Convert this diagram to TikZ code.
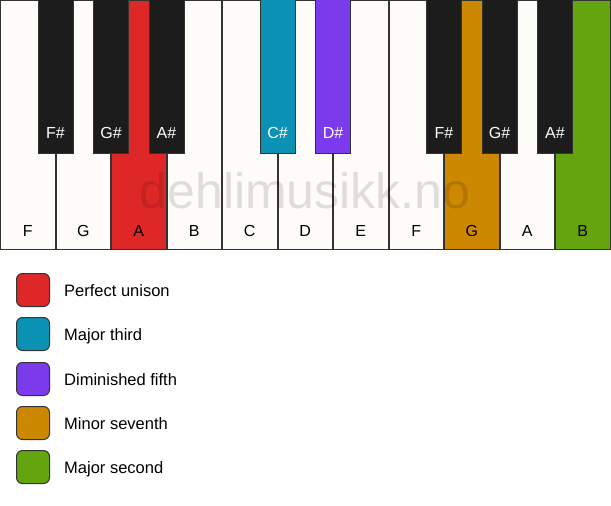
\documentclass[tikz,border=0pt]{standalone}
\usepackage{fontspec}
\setmainfont{Liberation Sans}
\definecolor{keywhite}{HTML}{FDFCF8}
\definecolor{keyblack}{HTML}{1C1C1C}
\definecolor{keyborder}{HTML}{333333}
\definecolor{cred}{HTML}{DE2828}
\definecolor{cblue}{HTML}{0A91B4}
\definecolor{cpurple}{HTML}{7B3AEC}
\definecolor{corange}{HTML}{CC8800}
\definecolor{cgreen}{HTML}{64A40E}
\tikzset{
  whitekey/.style={draw=keyborder, line width=1.2pt, fill=keywhite},
  blackkey/.style={draw=keyborder, line width=1pt, fill=keyblack},
  wlabel/.style={font=\fontsize{16}{16}\selectfont, text=black, anchor=base},
  blabel/.style={font=\fontsize{16}{16}\selectfont, text=white, anchor=base},
  legbox/.style={draw=keyborder, line width=1pt, rounded corners=6pt, minimum width=33pt, minimum height=33pt, inner sep=0pt},
  legtext/.style={font=\fontsize{16.5}{16.5}\selectfont, anchor=base west, inner sep=0pt},
}
\begin{document}
\begin{tikzpicture}[x=1pt,y=-1pt]
\useasboundingbox (0,0) rectangle (611,506);
\fill[white] (0,0) rectangle (611,506);
% white keys
\def\ww{55.5}
\foreach \i/\n/\c in {0/F/keywhite,1/G/keywhite,2/A/cred,3/B/keywhite,4/C/keywhite,5/D/keywhite,6/E/keywhite,7/F/keywhite,8/G/corange,9/A/keywhite,10/B/cgreen}{
  \draw[whitekey, fill=\c] ({\i*\ww+0.6},0.6) rectangle ({(\i+1)*\ww-0.2},249.5);
  \node[wlabel] (w\i) at ({(\i+0.5)*\ww},236.5) {\n};
}
% watermark
\node[font=\fontsize{50}{50}\selectfont, text=black, text opacity=0.12] (wm) at (305,191) {dehlimusikk.no};
% black keys
\foreach \b/\n/\c in {1/F\#/keyblack,2/G\#/keyblack,3/A\#/keyblack,5/C\#/cblue,6/D\#/cpurple,8/F\#/keyblack,9/G\#/keyblack,10/A\#/keyblack}{
  \draw[blackkey, fill=\c] ({\b*\ww-17.5},-1) rectangle ({\b*\ww+17.5},153);
  \node[blabel] (b\b) at ({\b*\ww},138.5) {\n};
}
% legend
\foreach \y/\c/\t [count=\k] in {290/cred/Perfect unison,334/cblue/Major third,379/cpurple/Diminished fifth,423/corange/Minor seventh,467/cgreen/Major second}{
  \node[legbox, fill=\c] (lb\k) at (33,\y) {};
  \node[legtext] (lt\k) at (64,\y+6) {\t};
}
\end{tikzpicture}
\end{document}
